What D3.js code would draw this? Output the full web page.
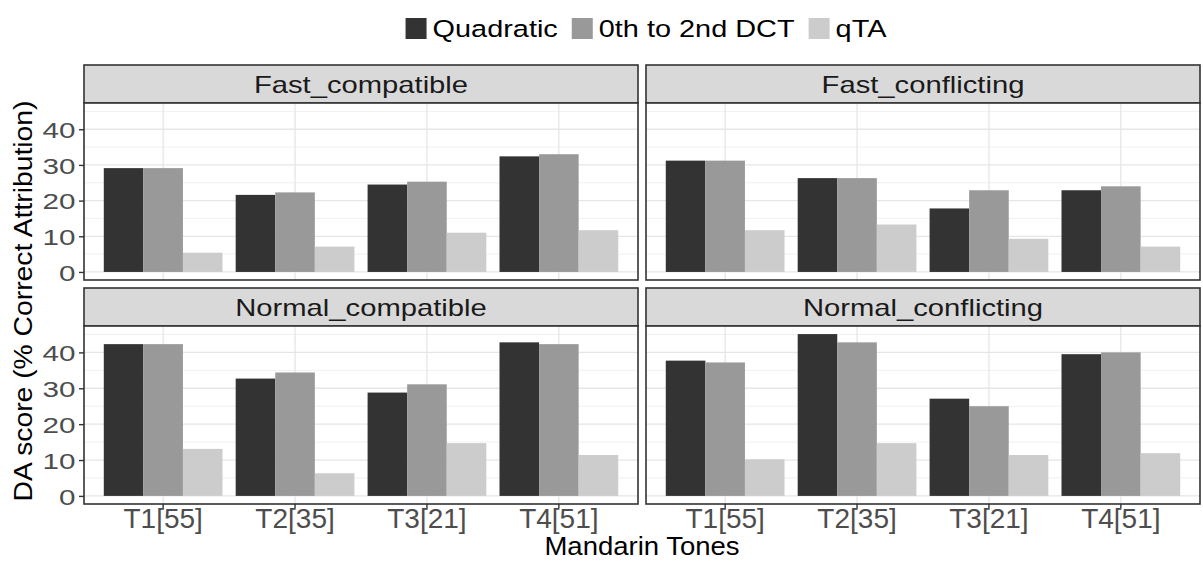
<!DOCTYPE html>
<html>
<head>
<meta charset="utf-8">
<script src="https://cdn.jsdelivr.net/npm/d3@7"></script>
<style>
  html, body { margin: 0; padding: 0; background: #ffffff; }
  svg { display: block; font-family: "Liberation Sans", Arial, sans-serif; }
</style>
</head>
<body>
<svg id="chart" width="1203" height="562"></svg>
<script>
// Tone categories and facet panels
const tones = ["T1[55]", "T2[35]", "T3[21]", "T4[51]"];
const panels = ["Fast_compatible", "Fast_conflicting", "Normal_compatible", "Normal_conflicting"];
const methods = ["Quadratic", "0th to 2nd DCT", "qTA"];

// DA scores per panel, one array per method, in tone order
const fastCompatibleQuadratic = [29.1, 21.6, 24.5, 32.4];
const fastCompatibleDCT       = [29.1, 22.3, 25.3, 33.0];
const fastCompatibleQTA       = [5.4, 7.1, 11.0, 11.7];

const fastConflictingQuadratic = [31.2, 26.3, 17.8, 22.9];
const fastConflictingDCT       = [31.2, 26.3, 22.9, 24.0];
const fastConflictingQTA       = [11.7, 13.3, 9.3, 7.1];

const normalCompatibleQuadratic = [42.3, 32.7, 28.8, 42.8];
const normalCompatibleDCT       = [42.3, 34.4, 31.1, 42.3];
const normalCompatibleQTA       = [13.1, 6.3, 14.7, 11.4];

const normalConflictingQuadratic = [37.7, 45.1, 27.1, 39.5];
const normalConflictingDCT       = [37.2, 42.8, 25.0, 40.0];
const normalConflictingQTA       = [10.2, 14.7, 11.4, 11.9];

const yTicks = [0, 10, 20, 30, 40];
const yMinorTicks = [5, 15, 25, 35, 45];

const seriesByPanel = {
  "Fast_compatible":    [fastCompatibleQuadratic, fastCompatibleDCT, fastCompatibleQTA],
  "Fast_conflicting":   [fastConflictingQuadratic, fastConflictingDCT, fastConflictingQTA],
  "Normal_compatible":  [normalCompatibleQuadratic, normalCompatibleDCT, normalCompatibleQTA],
  "Normal_conflicting": [normalConflictingQuadratic, normalConflictingDCT, normalConflictingQTA]
};

const fills = ["#333333", "#999999", "#cccccc"];

// Layout
const panelLeft = 84, panelW = 554, gapX = 8;
const rows = [
  { stripTop: 65,  stripH: 38, plotTop: 103, plotH: 177 },
  { stripTop: 288, stripH: 38, plotTop: 326, plotH: 178 }
];

const svg = d3.select("#chart");

// Text helper: horizontal stretch via scale along the text direction
function label(g, txt, x, y, o) {
  const t = g.append("text")
    .attr("transform", `translate(${x},${y}) rotate(${o.rotate || 0}) scale(${o.sx || 1},1)`)
    .attr("text-anchor", o.anchor || "middle")
    .style("font-size", o.size + "px")
    .style("fill", o.fill || "#000")
    .text(txt);
  return t;
}

// Shared y domain (facet_wrap, fixed scales) with 5% expansion
const allVals = Object.values(seriesByPanel).flat(2);
const yMax = d3.max(allVals);
const yDomain = [-0.05 * yMax, 1.05 * yMax];

const x = d3.scaleBand().domain(tones).range([0, panelW]).paddingInner(0.1).paddingOuter(0.15);
const xInner = d3.scaleBand().domain(methods).range([0, x.bandwidth()]).padding(0);

panels.forEach((name, i) => {
  const row = rows[Math.floor(i / 2)];
  const col = i % 2;
  const left = panelLeft + col * (panelW + gapX);
  const y = d3.scaleLinear().domain(yDomain).range([row.plotH, 0]);

  // strip
  const strip = svg.append("g").attr("transform", `translate(${left},${row.stripTop})`);
  strip.append("rect").attr("width", panelW).attr("height", row.stripH)
    .attr("fill", "#d9d9d9").attr("stroke", "#333333").attr("stroke-width", 1.6);
  label(strip, name, panelW / 2, row.stripH / 2 + 8.8, { size: 23, sx: 1.27, fill: "#1a1a1a" });

  const g = svg.append("g").attr("transform", `translate(${left},${row.plotTop})`);
  g.append("rect").attr("width", panelW).attr("height", row.plotH).attr("fill", "#ffffff");

  // grid
  g.selectAll(".minor").data(yMinorTicks).join("line")
    .attr("x1", 0).attr("x2", panelW).attr("y1", d => y(d)).attr("y2", d => y(d))
    .attr("stroke", "#f0f0f0").attr("stroke-width", 1);
  g.selectAll(".major").data(yTicks).join("line")
    .attr("x1", 0).attr("x2", panelW).attr("y1", d => y(d)).attr("y2", d => y(d))
    .attr("stroke", "#e6e6e6").attr("stroke-width", 1.3);
  g.selectAll(".vgrid").data(tones).join("line")
    .attr("x1", d => x(d) + x.bandwidth() / 2).attr("x2", d => x(d) + x.bandwidth() / 2)
    .attr("y1", 0).attr("y2", row.plotH)
    .attr("stroke", "#e6e6e6").attr("stroke-width", 1.3);

  // bars
  const series = seriesByPanel[name];
  methods.forEach((m, k) => {
    g.selectAll(null).data(tones.map((t, j) => ({ tone: t, value: series[k][j] }))).join("rect")
      .attr("x", d => x(d.tone) + xInner(m))
      .attr("width", xInner.bandwidth())
      .attr("y", d => y(d.value))
      .attr("height", d => y(0) - y(d.value))
      .attr("fill", fills[k]);
  });

  // panel border
  g.append("rect").attr("width", panelW).attr("height", row.plotH)
    .attr("fill", "none").attr("stroke", "#333333").attr("stroke-width", 1.6);

  // y axis on left column
  if (col === 0) {
    const ay = g.append("g").call(d3.axisLeft(y).tickValues(yTicks).tickSize(5).tickPadding(1.5));
    ay.select(".domain").remove();
    ay.selectAll(".tick line").attr("stroke", "#333333").attr("stroke-width", 1.4);
    ay.selectAll(".tick text")
      .attr("transform", "scale(1.3,1)")
      .attr("dy", "0.36em")
      .style("font-size", "22.8px")
      .style("font-family", "\"Liberation Sans\", Arial, sans-serif")
      .style("fill", "#4d4d4d");
  }

  // x axis on bottom row
  if (row === rows[1]) {
    const ax = g.append("g").attr("transform", `translate(0,${row.plotH})`)
      .call(d3.axisBottom(x).tickSize(4).tickPadding(3));
    ax.select(".domain").remove();
    ax.selectAll(".tick line").attr("stroke", "#333333").attr("stroke-width", 1.4);
    ax.selectAll(".tick text")
      .attr("y", 24).attr("dy", 0)
      .style("font-size", "28px")
      .style("font-family", "\"Liberation Sans\", Arial, sans-serif")
      .style("fill", "#4d4d4d");
  }
});

// axis titles
label(svg, "Mandarin Tones", panelLeft + panelW + gapX / 2, 555, { size: 25, sx: 1.1 });
label(svg, "DA score (% Correct Attribution)", 32, 301, { size: 25.5, sx: 1.11, rotate: -90 });

// legend on top, centred
const legend = svg.append("g");
const keySize = 21, keyGap = 6, itemGap = 14, legSx = 1.24;
const items = methods.map((m, k) => {
  const it = legend.append("g");
  it.append("rect").attr("width", keySize).attr("height", keySize).attr("y", 18).attr("fill", fills[k]);
  const t = label(it, m, keySize + keyGap, 37, { size: 23.3, sx: legSx, anchor: "start" });
  return { g: it, w: keySize + keyGap + t.node().getComputedTextLength() * legSx };
});
const totalW = d3.sum(items, d => d.w) + itemGap * (items.length - 1);
let cx = 646 - totalW / 2;
items.forEach(d => { d.g.attr("transform", `translate(${cx},0)`); cx += d.w + itemGap; });
</script>
</body>
</html>
